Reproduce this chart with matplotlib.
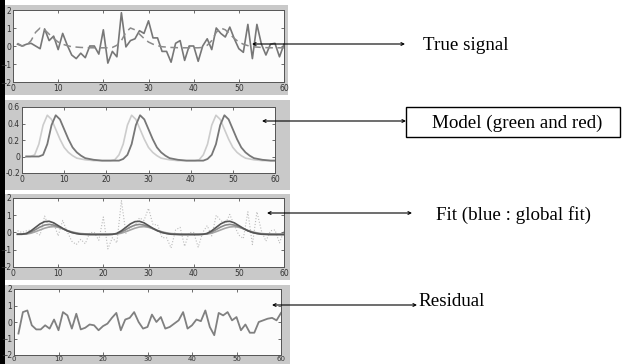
import matplotlib
matplotlib.use('Agg')
import matplotlib.pyplot as plt
from matplotlib.patches import Rectangle

W, H = 627, 364

# x axis: samples 1..60
x = list(range(1, 61))

# true signal (noisy) and its underlying shape
signal = [0.1, 0.0, 0.1, 0.15, 0.0, -0.15, 0.95, 0.3, 0.55, -0.2,
          0.7, 0.05, -0.5, -0.7, -0.4, -0.65, 0.0, 0.0, -0.45, 0.9,
          -0.95, -0.3, -0.6, 1.85, -0.05, 0.3, 0.4, 0.85, 0.7, 1.4,
          0.45, 0.45, -0.3, -0.3, -0.9, 0.15, 0.3, -0.8, 0.0, 0.0,
          -0.85, 0.0, 0.4, -0.2, 1.0, 0.7, 0.5, 1.05, 0.4, -0.15,
          -0.35, 1.2, -0.7, 1.2, 0.1, -0.5, 0.1, 0.15, -0.6, 0.1]
shape = [0.15, 0.0, 0.04, 0.3, 0.76, 1.0, 0.9, 0.66, 0.42, 0.22,
         0.1, 0.02, -0.04, -0.06, -0.08, -0.09, -0.1, -0.1, -0.1, -0.1,
         -0.1, -0.08, 0.04, 0.3, 0.76, 1.0, 0.9, 0.66, 0.42, 0.22,
         0.1, 0.02, -0.04, -0.06, -0.08, -0.09, -0.1, -0.1, -0.1, -0.1,
         -0.1, -0.08, 0.04, 0.3, 0.76, 1.0, 0.9, 0.66, 0.42, 0.22,
         0.1, 0.02, -0.04, -0.06, -0.08, -0.09, -0.1, -0.1, -0.1, -0.1]

# model curves (green = early, red = late)
model_green = [0.0, 0.0, 0.02, 0.15, 0.38, 0.5, 0.45, 0.33, 0.21, 0.11,
               0.05, 0.01, -0.02, -0.03, -0.04, -0.045, -0.05, -0.05, -0.05, -0.05,
               -0.05, -0.04, 0.02, 0.15, 0.38, 0.5, 0.45, 0.33, 0.21, 0.11,
               0.05, 0.01, -0.02, -0.03, -0.04, -0.045, -0.05, -0.05, -0.05, -0.05,
               -0.05, -0.04, 0.02, 0.15, 0.38, 0.5, 0.45, 0.33, 0.21, 0.11,
               0.05, 0.01, -0.02, -0.03, -0.04, -0.045, -0.05, -0.05, -0.05, -0.05]
model_red = [0.0, 0.0, 0.0, 0.0, 0.02, 0.15, 0.38, 0.5, 0.45, 0.33,
             0.21, 0.11, 0.05, 0.01, -0.02, -0.03, -0.04, -0.045, -0.05, -0.05,
             -0.05, -0.05, -0.05, -0.03, 0.02, 0.15, 0.38, 0.5, 0.45, 0.33,
             0.21, 0.11, 0.05, 0.01, -0.02, -0.03, -0.04, -0.045, -0.05, -0.05,
             -0.05, -0.05, -0.05, -0.03, 0.02, 0.15, 0.38, 0.5, 0.45, 0.33,
             0.21, 0.11, 0.05, 0.01, -0.02, -0.03, -0.04, -0.045, -0.05, -0.05]

# fits
fit_global = [-0.1, -0.1, -0.05, 0.1, 0.3, 0.5, 0.63, 0.65, 0.56, 0.4,
              0.24, 0.1, 0.0, -0.06, -0.1, -0.11, -0.12, -0.12, -0.12, -0.12,
              -0.12, -0.11, -0.05, 0.1, 0.3, 0.5, 0.63, 0.65, 0.56, 0.4,
              0.24, 0.1, 0.0, -0.06, -0.1, -0.11, -0.12, -0.12, -0.12, -0.12,
              -0.12, -0.11, -0.05, 0.1, 0.3, 0.5, 0.63, 0.65, 0.56, 0.4,
              0.24, 0.1, 0.0, -0.06, -0.1, -0.11, -0.12, -0.12, -0.12, -0.12]
fit_green = [-0.1, -0.1, -0.07, 0.03, 0.17, 0.32, 0.43, 0.47, 0.43, 0.34,
             0.22, 0.1, 0.01, -0.05, -0.09, -0.1, -0.11, -0.11, -0.11, -0.11,
             -0.11, -0.1, -0.07, 0.03, 0.17, 0.32, 0.43, 0.47, 0.43, 0.34,
             0.22, 0.1, 0.01, -0.05, -0.09, -0.1, -0.11, -0.11, -0.11, -0.11,
             -0.11, -0.1, -0.07, 0.03, 0.17, 0.32, 0.43, 0.47, 0.43, 0.34,
             0.22, 0.1, 0.01, -0.05, -0.09, -0.1, -0.11, -0.11, -0.11, -0.11]
fit_red = [-0.1, -0.1, -0.09, -0.04, 0.05, 0.15, 0.25, 0.32, 0.34, 0.3,
           0.22, 0.12, 0.04, -0.02, -0.06, -0.08, -0.09, -0.1, -0.1, -0.1,
           -0.1, -0.1, -0.09, -0.04, 0.05, 0.15, 0.25, 0.32, 0.34, 0.3,
           0.22, 0.12, 0.04, -0.02, -0.06, -0.08, -0.09, -0.1, -0.1, -0.1,
           -0.1, -0.1, -0.09, -0.04, 0.05, 0.15, 0.25, 0.32, 0.34, 0.3,
           0.22, 0.12, 0.04, -0.02, -0.06, -0.08, -0.09, -0.1, -0.1, -0.1]

residual = [-0.7, 0.6, 0.7, -0.2, -0.45, -0.45, -0.2, -0.4, 0.15, -0.5,
            0.6, 0.4, -0.4, 0.5, -0.45, -0.35, -0.15, -0.2, -0.5, -0.25,
            -0.1, 0.25, 0.55, -0.5, 0.15, 0.25, 0.6, 0.0, -0.4, -0.3,
            0.45, 0.0, 0.3, -0.4, -0.3, -0.1, 0.1, 0.6, -0.4, -0.2,
            0.15, 0.05, 0.7, -0.3, -0.8, 0.55, 0.4, 0.6, 0.1, 0.3,
            -0.5, -0.15, -0.65, -0.65, 0.0, 0.1, 0.2, 0.25, 0.1, 0.55]

xticks = [0, 10, 20, 30, 40, 50, 60]
yticks_sig = [-2, -1, 0, 1, 2]
yticks_mod = [-0.2, 0, 0.2, 0.4, 0.6]
ylabels_mod = ['-0.2', '0', '0.2', '0.4', '0.6']

labels = ['True signal', 'Model (green and red)', 'Fit (blue : global fit)', 'Residual']

fig = plt.figure(figsize=(W / 100, H / 100), dpi=100)
fig.patch.set_facecolor('white')


def px_rect(l, t, r, b):
    return [l / W, 1 - b / H, (r - l) / W, (b - t) / H]


# background layer: grey matlab figure panels + black bar
bg = fig.add_axes([0, 0, 1, 1], zorder=-5)
bg.set_xlim(0, W)
bg.set_ylim(H, 0)
bg.axis('off')
for (l, t, r, b) in [(5, 5, 288, 95), (5, 100, 290, 190), (5, 194, 290, 280), (5, 285, 290, 364)]:
    bg.add_patch(Rectangle((l, t), r - l, b - t, color='#c9c9c9', lw=0))
bg.add_patch(Rectangle((0, 0), 5, H, color='black', lw=0))


def style(ax, yt, ylab=None):
    ax.set_facecolor('#fcfcfc')
    ax.set_xlim(0, 60)
    ax.set_xticks(xticks)
    ax.set_yticks(yt)
    if ylab is not None:
        ax.set_yticklabels(ylab)
    ax.tick_params(direction='in', length=2.5, width=0.5, top=True, right=True,
                   labelsize=5.5, colors='#333333', pad=1.5)
    for s in ax.spines.values():
        s.set_color('#555555')
        s.set_linewidth(0.7)


ax1 = fig.add_axes(px_rect(13, 10, 284, 82))
ax1.plot(x, signal, color='#777777', lw=1.2)
ax1.plot(x, shape, color='#8a8a8a', lw=1.1, dashes=(5, 3))
ax1.set_ylim(-2, 2)
style(ax1, yticks_sig)

ax2 = fig.add_axes(px_rect(22, 107, 275, 173))
ax2.plot(x, model_green, color='#cccccc', lw=1.2)
ax2.plot(x, model_red, color='#777777', lw=1.3)
ax2.set_ylim(-0.2, 0.6)
style(ax2, yticks_mod, ylabels_mod)

ax3 = fig.add_axes(px_rect(13, 198, 284, 267))
ax3.plot(x, signal, color='#bbbbbb', lw=0.8, ls=':')
ax3.plot(x, fit_red, color='#a5a5a5', lw=1.2)
ax3.plot(x, fit_green, color='#888888', lw=1.2)
ax3.plot(x, fit_global, color='#555555', lw=1.2)
ax3.set_ylim(-2, 2)
style(ax3, yticks_sig)

ax4 = fig.add_axes(px_rect(14, 289, 281, 355))
ax4.plot(x, residual, color='#808080', lw=1.3)
ax4.set_ylim(-2, 2)
style(ax4, yticks_sig)
ax4.tick_params(axis='x', labelsize=5, pad=0.6)

# foreground layer: arrows and labels
fg = fig.add_axes([0, 0, 1, 1], zorder=10)
fg.set_xlim(0, W)
fg.set_ylim(H, 0)
fg.axis('off')
fg.patch.set_alpha(0)

arrows = [(252, 405, 44), (262, 406, 121), (267, 412, 213), (272, 417, 305)]
for (x0, x1, y) in arrows:
    fg.annotate('', xy=(x1, y), xytext=(x0, y),
                arrowprops=dict(arrowstyle='<->', color='black', lw=0.8,
                                mutation_scale=5, shrinkA=0, shrinkB=0))

font = dict(family='Liberation Serif', fontsize=13.7, color='black', va='center')
fg.text(423, 46, labels[0], ha='left', **font)
fg.add_patch(Rectangle((406, 107), 214, 30, fill=False, edgecolor='black', lw=1.0))
fg.text(517, 123, labels[1], ha='center', **font)
fg.text(436, 215, labels[2], ha='left', **font)
fg.text(418, 302, labels[3], ha='left', **font)

fig.savefig('out.png', dpi=100)
